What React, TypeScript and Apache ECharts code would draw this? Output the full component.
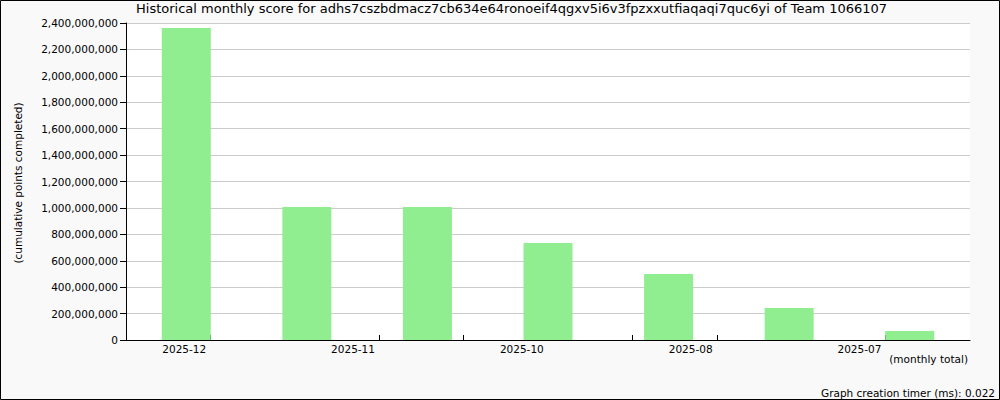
import React, { useEffect, useRef } from "react";
import * as echarts from "echarts";

const titleText =
  "Historical monthly score for adhs7cszbdmacz7cb634e64ronoeif4qgxv5i6v3fpzxxutfiaqaqi7quc6yi of Team 1066107";
const yAxisTitle = "(cumulative points completed)";
const xAxisTitle = "(monthly total)";
const footerText = "Graph creation timer (ms): 0.022";

const barCategories = ["b1", "b2", "b3", "b4", "b5", "b6", "b7"];
const barValues = [2362000000, 1007000000, 1007000000, 734000000, 500000000, 242000000, 68000000];

const tickLabels = ["2025-12", "2025-11", "2025-10", "2025-08", "2025-07"];
const tickLabelPositions = [0.69, 2.69, 4.69, 6.69, 8.69];
const tickPositions = [1, 2, 3, 4, 5, 6, 7, 8, 9];

const yMin = 0;
const yMax = 2400000000;
const yInterval = 200000000;

const FONT = "DejaVu Sans";

export default function App() {
  const ref = useRef<HTMLDivElement>(null);
  useEffect(() => {
    if (!ref.current) return;
    const chart = echarts.init(ref.current, null, { renderer: "svg" });
    chart.setOption({
      animation: false,
      backgroundColor: "#f9f9f9",
      title: {
        text: titleText,
        left: 136,
        top: 2,
        padding: 0,
        textStyle: { fontFamily: FONT, fontSize: 13, fontWeight: "normal", color: "#000" },
      },
      grid: {
        left: 126,
        right: 30,
        top: 23,
        bottom: 60,
        show: true,
        backgroundColor: "#fff",
        borderWidth: 0,
      },
      xAxis: [
        {
          type: "category",
          data: barCategories,
          axisLine: { show: true, lineStyle: { color: "#000", width: 1 } },
          axisTick: { show: false },
          axisLabel: { show: false },
          splitLine: { show: false },
        },
        {
          type: "value",
          position: "bottom",
          min: 0,
          max: 10,
          axisLine: { show: false },
          axisTick: {
            show: true,
            inside: true,
            length: 5,
            customValues: tickPositions,
            lineStyle: { color: "#000" },
          },
          axisLabel: {
            show: true,
            customValues: tickLabelPositions,
            formatter: (v: number) => {
              const i = tickLabelPositions.findIndex((p) => Math.abs(p - v) < 0.01);
              return i >= 0 ? tickLabels[i] : "";
            },
            fontFamily: FONT,
            fontSize: 10.5,
            color: "#000",
            margin: 3,
          },
          splitLine: { show: false },
        },
      ],
      yAxis: {
        type: "value",
        min: yMin,
        max: yMax,
        interval: yInterval,
        axisLine: { show: true, lineStyle: { color: "#000", width: 1 } },
        axisTick: { show: true, inside: false, length: 6, lineStyle: { color: "#000" } },
        axisLabel: {
          fontFamily: FONT,
          fontSize: 10.5,
          color: "#000",
          margin: 8,
          formatter: (v: number) => v.toLocaleString("en-US"),
        },
        splitLine: { show: true, lineStyle: { color: "#cccccc", width: 1 } },
      },
      series: [
        {
          type: "bar",
          xAxisIndex: 0,
          data: barValues,
          barWidth: 49,
          itemStyle: { color: "#90ee90" },
        },
      ],
      graphic: [
        {
          type: "rect",
          shape: { x: 0.5, y: 0.5, width: 999, height: 399 },
          style: { fill: "none", stroke: "#000", lineWidth: 1 },
          silent: true,
          z: 100,
        },
        {
          type: "text",
          x: 18,
          y: 183,
          rotation: Math.PI / 2,
          style: {
            text: yAxisTitle,
            fontFamily: FONT,
            fontSize: 10.5,
            fill: "#000",
            align: "center",
            verticalAlign: "middle",
          },
        },
        {
          type: "text",
          x: 968,
          y: 359,
          style: {
            text: xAxisTitle,
            fontFamily: FONT,
            fontSize: 10.5,
            fill: "#000",
            align: "right",
            verticalAlign: "middle",
          },
        },
        {
          type: "text",
          x: 995,
          y: 393,
          style: {
            text: footerText,
            fontFamily: FONT,
            fontSize: 10.5,
            fill: "#000",
            align: "right",
            verticalAlign: "middle",
          },
        },
      ],
    });
    return () => chart.dispose();
  }, []);
  return (
    <div
      ref={ref}
      style={{ position: "fixed", left: 0, top: 0, width: 1000, height: 400 }}
    />
  );
}
